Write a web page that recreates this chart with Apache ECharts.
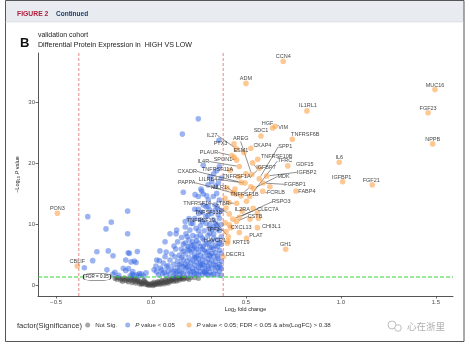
<!DOCTYPE html>
<html><head><meta charset="utf-8">
<script src="https://cdn.jsdelivr.net/npm/echarts@6/dist/echarts.min.js"></script>
<style>html,body{margin:0;padding:0;background:#fff}#c{width:470px;height:345px}</style>
</head><body><div id="c"></div>
<script>
// ---------- DATA ----------
const xTicks = [-0.5, 0, 0.5, 1, 1.5];
const yTicks = [0, 10, 20, 30];
const xRange = [-0.595, 1.59];
const yRange = [-1.68, 38.07];
const fcCut = 0.38;
const fdrLine = 1.43;
const fdrLabelAt = [-0.284, 1.43];

const sigGenes = ["CCN4","ADM","IL1RL1","MUC16","FGF23","NPPB","IL6","IGFBP1","FGF21","GH1","PON3","CBLIF","VIM","HGF","SDC1","TNFRSF6B","PTX3","IL27","AREG","CKAP4","SPP1","ESM1","TNFRSF10B","PLAUR","SPON1","IL4R","TNFRSF11A","TNFRSF1A","IGFBP7","LILRB4","CXADR","PAPPA","MILR1","TNFRSF1B","FGFBP1","FCRLB","FABP4","GDF15","TFRC","IGFBP2","MDK","RSPO3","IL2RA","CLEC7A","CSTB","CXCL13","TFF3","TNFRSF19","TNFSF13B","TNFRSF14","LTBR","CHI3L1","PLAT","KRT19","HAVCR1","DECR1"];
const sigFC = [0.696,0.50,0.821,1.495,1.459,1.483,0.991,1.009,1.165,0.709,-0.493,-0.388,0.654,0.640,0.579,0.744,0.437,0.45,0.53,0.526,0.57,0.489,0.562,0.425,0.451,0.465,0.416,0.57,0.535,0.495,0.475,0.43,0.445,0.526,0.59,0.588,0.763,0.72,0.52,0.609,0.54,0.465,0.538,0.43,0.45,0.412,0.395,0.407,0.395,0.412,0.451,0.56,0.503,0.405,0.402,0.381];
const sigLogP = [36.7,33.1,28.6,32.1,28.3,23.2,20.2,17.0,16.5,5.95,11.85,3.22,26.1,25.8,24.5,23.95,23.2,22.4,18.2,22.5,17.5,21.8,20.7,21.3,20.55,19.5,18.9,19.2,20.1,16.8,16.9,15.2,15.0,16.2,16.8,15.45,15.5,19.6,14.6,17.95,15.9,11.2,12.66,10.9,10.5,9.95,8.85,8.0,12.7,11.75,13.5,9.5,7.75,7.3,6.95,4.75];

const sigExtra = [[0.438,21.0],[0.50,18.3],[0.442,15.8],[0.474,14.7],[0.626,16.2],[0.56,11.9],[0.565,11.05],[0.521,10.9],[0.503,13.8],[0.465,8.7],[0.41,13.6],[0.39,10.3],[0.42,9.5],[0.48,12.2],[0.46,17.8],[0.40,16.0],[0.39,14.3]];

const blue = [
[-0.351,2.95],[-0.333,11.3],[-0.307,4.1],[-0.285,5.55],[-0.237,9.3],[-0.232,2.6],[-0.225,5.7],[-0.209,10.4],[-0.2,4.9],[-0.19,2.2],[-0.146,2.85],[-0.133,4.2],[-0.133,2.5],[-0.123,12.2],[-0.123,8.5],[-0.12,5.4],[-0.119,2.8],[-0.114,5.3],[-0.105,3.9],[-0.096,2.3],[-0.088,4.05],[-0.079,3.8],[-0.072,5.6],[-0.061,2.0],[-0.026,2.1],[-0.1,1.9],[-0.11,1.6],[-0.09,1.7],[-0.075,1.8],[-0.065,1.6],[-0.05,1.9],[-0.04,1.6],[-0.2,1.9],[-0.17,1.7],
[0.016,2.6],[0.026,3.2],[0.03,2.3],[0.03,4.2],[0.044,4.1],[0.047,5.7],[0.056,2.6],[0.065,3.7],[0.074,4.75],[0.074,7.2],[0.083,3.1],[0.1,4.2],[0.1,8.5],[0.121,6.5],[0.126,4.75],[0.132,8.5],[0.135,9.1],[0.135,2.3],[0.161,7.9],[0.17,5.6],[0.17,3.1],[0.184,8.5],[0.196,6.4],[0.205,9.1],[0.223,6.7],[0.223,2.3],[0.237,9.4],[0.24,8.0],[0.24,4.75],[0.258,3.4],[0.275,6.5],[0.284,2.2],[0.302,2.85],[0.307,5.0],[0.307,9.4],[0.328,5.97],[0.346,9.95],[0.354,4.5],[0.363,3.1],
[0.04,1.8],[0.06,2.0],[0.08,1.7],[0.09,2.4],[0.1,1.9],[0.11,2.7],[0.12,1.6],[0.12,3.5],[0.13,2.0],[0.14,3.0],[0.14,4.0],[0.15,1.8],[0.15,2.5],[0.15,5.0],[0.16,3.6],[0.16,6.0],[0.17,2.0],[0.17,4.3],[0.18,2.8],[0.18,3.5],[0.18,5.2],[0.18,7.0],[0.19,1.9],[0.19,4.0],[0.19,6.0],[0.2,2.5],[0.2,3.2],[0.2,4.6],[0.2,7.5],[0.21,1.7],[0.21,3.8],[0.21,5.5],[0.22,2.9],[0.22,4.2],[0.22,5.9],[0.22,7.2],[0.23,2.0],[0.23,3.4],[0.23,5.0],[0.24,2.6],[0.24,3.9],[0.24,6.0],[0.25,1.8],[0.25,3.0],[0.25,4.4],[0.25,5.5],[0.25,7.0],[0.26,2.3],[0.26,3.7],[0.26,5.0],[0.26,8.3],[0.27,1.9],[0.27,2.9],[0.27,4.2],[0.27,6.0],[0.28,3.3],[0.28,4.8],[0.28,7.5],[0.29,2.5],[0.29,3.9],[0.29,5.5],[0.29,6.8],[0.3,1.8],[0.3,3.2],[0.3,4.4],[0.3,8.2],[0.31,2.2],[0.31,3.7],[0.31,6.3],[0.32,2.9],[0.32,4.1],[0.32,5.3],[0.32,7.2],[0.33,1.9],[0.33,3.4],[0.33,8.5],[0.34,2.5],[0.34,4.0],[0.34,5.4],[0.34,6.6],[0.35,1.8],[0.35,3.0],[0.35,7.5],[0.36,2.4],[0.36,5.8],[0.37,1.7],[0.37,4.0],[0.37,6.8],
[0.05,2.9],[0.07,2.2],[0.08,5.5],[0.09,3.3],[0.11,5.2],[0.12,2.4],[0.13,6.0],[0.14,7.2],[0.15,3.4],[0.16,4.6],[0.16,2.2],[0.17,6.8],[0.18,9.6],[0.19,3.1],[0.19,8.0],[0.2,5.8],[0.21,2.3],[0.21,6.6],[0.21,10.2],[0.22,8.2],[0.23,4.6],[0.23,6.3],[0.23,11.0],[0.24,1.9],[0.24,7.3],[0.25,9.0],[0.25,12.5],[0.26,6.4],[0.26,10.8],[0.27,3.5],[0.27,7.8],[0.27,12.0],[0.28,2.3],[0.28,5.8],[0.28,9.0],[0.29,1.9],[0.29,10.2],[0.3,5.6],[0.3,7.0],[0.3,13.0],[0.31,4.9],[0.31,8.6],[0.32,1.8],[0.32,6.3],[0.32,9.2],[0.32,11.8],[0.33,4.8],[0.33,7.8],[0.34,3.3],[0.34,10.2],[0.34,12.4],[0.35,4.8],[0.35,6.4],[0.35,9.3],[0.36,3.5],[0.36,7.0],[0.36,11.0],[0.37,2.8],[0.37,5.3],[0.37,8.0],[0.37,10.0],[0.37,12.3],
[0.17,15.3],[0.263,15.8],[0.275,15.0],[0.249,14.6],[0.302,14.05],[0.328,14.6],[0.346,15.1],[0.275,13.2],[0.337,13.2],[0.31,12.4],[0.354,11.6],[0.289,11.3],[0.328,10.8],[0.267,15.5],[0.293,14.7],[0.232,14.9],[0.3,16.5],[0.32,17.0],[0.34,16.3],[0.36,14.0],[0.35,12.8],[0.31,10.0],[0.27,10.5],[0.25,11.8],[0.23,12.5],[0.29,12.9],[0.36,9.0],[0.33,9.6],[0.2,11.0],[0.22,10.2],[0.18,10.5],[0.26,9.8],[0.3,11.5],[0.355,16.8],[0.37,17.6],[0.345,18.8],
[0.249,27.3],[0.165,24.8],[0.358,23.8],[0.275,19.7],[0.33,18.3],[0.36,19.5],[0.31,17.8]
];

const notSig = [[-0.19,1.2],[-0.18,1.0],[-0.17,1.3],[-0.16,0.9],[-0.15,1.1],[-0.15,0.7],[-0.14,1.3],[-0.13,0.8],[-0.12,1.0],[-0.12,0.6],[-0.11,1.2],[-0.10,0.5],[-0.10,0.9],[-0.09,0.7],[-0.09,1.1],[-0.08,0.4],[-0.08,0.8],[-0.07,0.6],[-0.07,1.0],[-0.06,0.3],[-0.06,0.7],[-0.05,0.5],[-0.05,0.2],[-0.04,0.4],[-0.04,0.8],[-0.03,0.2],[-0.03,0.6],[-0.02,0.1],[-0.02,0.4],[-0.01,0.05],[-0.01,0.3],[0.0,0.1],[0.0,0.3],[0.01,0.0],[0.01,0.2],[0.02,0.1],[0.02,0.4],[0.03,0.2],[0.03,0.5],[0.04,0.3],[0.04,0.6],[0.05,0.2],[0.05,0.5],[0.06,0.4],[0.06,0.8],[0.07,0.3],[0.07,0.6],[0.08,0.5],[0.08,0.9],[0.09,0.4],[0.09,0.7],[0.10,0.6],[0.10,1.0],[0.11,0.8],[0.11,1.2],[0.12,0.7],[0.12,1.0],[0.13,0.9],[0.13,1.3],[0.14,1.1],[0.15,0.9],[0.15,1.3],[0.16,1.2],[0.17,1.0],[0.18,1.3],[0.19,1.2],[0.21,1.3],
[-0.18,1.35],[-0.16,1.2],[-0.14,0.95],[-0.13,1.15],[-0.11,0.9],[-0.1,1.3],[-0.085,1.0],[-0.07,0.8],[-0.055,0.6],[-0.045,0.35],[-0.035,0.9],[-0.025,0.5],[-0.015,0.2],[0.005,0.4],[0.015,0.6],[0.025,0.3],[0.035,0.7],[0.045,0.45],[0.055,0.9],[0.065,0.55],[0.075,1.0],[0.085,0.7],[0.095,1.1],[0.105,0.8],[0.115,1.0],[0.125,1.3],[0.135,0.75],[0.145,1.3],[0.155,1.1],[0.165,1.35],[0.175,1.2],[0.2,1.0],[0.23,1.3],[0.25,1.2]];

// label nudges (pixels) and whether a leader line is drawn
const nudge = {CCN4:[0,-5,0],ADM:[0,-4.5,0],IL1RL1:[1,-5,0],MUC16:[0,-4.5,0],FGF23:[0,-4.5,0],NPPB:[0,-4.5,0],IL6:[0,-4.5,0],IGFBP1:[-1,-4.5,0],FGF21:[-1,-4.5,0],GH1:[0,-4.5,0],PON3:[0,-4.5,0],CBLIF:[0,-4.5,0],VIM:[8,1,0],HGF:[-5,-5,0],SDC1:[0,-5,0],TNFRSF6B:[13,-4.5,0],PTX3:[-13.5,0,0],IL27:[-24.5,-13.5,1],AREG:[-11,-36,1],CKAP4:[11.5,-3,0],SPP1:[26,-32,1],ESM1:[-3,-2,0],TNFRSF10B:[19,-2.5,0],PLAUR:[-22.7,-3,1],SPON1:[-13.7,-1,1],IL4R:[-36,-5,1],TNFRSF11A:[-12.5,-1,1],TNFRSF1A:[-22.8,8.4,1],IGFBP7:[13.3,4.7,1],LILRB4:[-37,-3.7,1],CXADR:[-54,-11,1],PAPPA:[-46,-10,1],MILR1:[-16.5,-7,1],TNFRSF1B:[-6.5,8,1],FGFBP1:[32,1.3,1],FCRLB:[13.3,1.7,1],FABP4:[11,1,0],GDF15:[17,-1.7,0],TFRC:[35,-35.5,1],IGFBP2:[40,-3.7,1],MDK:[30,-12,1],RSPO3:[42,-15.5,1],IL2RA:[-11,1,0],CLEC7A:[35.3,-10,1],CSTB:[18.5,-5,1],CXCL13:[12,3,1],TFF3:[-13,-2.3,1],TNFRSF19:[-27.5,-16,1],TNFSF13B:[-17.5,4,1],TNFRSF14:[-32,-10.7,1],LTBR:[-13.7,0,1],CHI3L1:[14,-1,0],PLAT:[9.5,-3.3,0],KRT19:[13,1.7,0],HAVCR1:[-12.3,-2.6,0],DECR1:[12,-2.4,0]};

// ---------- CHART ----------
const FF = '"Liberation Sans", Arial, sans-serif';
const chart = echarts.init(document.getElementById('c'), null, {renderer:'canvas'});
const sigData = sigGenes.map((n,i)=>({name:n, value:[sigFC[i], sigLogP[i]], labelLine:{show: !!nudge[n][2]}}));
const fmtX = v => (v<0?'\u2212':'') + Math.abs(v).toFixed(1);
const SIG = 'P value < 0.05; FDR < 0.05 & abs(LogFC) > 0.38';
const legendBase = {top:317,itemWidth:5,itemHeight:5,icon:'circle',
    formatter:n=> n.charAt(0)==='P' ? '{i|P}{n|'+n.slice(1)+'}' : '{n|'+n+'}',
    textStyle:{fontSize:6.2,color:'#333',fontFamily:FF,
      rich:{i:{fontStyle:'italic',fontSize:6.2,color:'#333',fontFamily:FF},n:{fontSize:6.2,color:'#333',fontFamily:FF}}}};
const COL_NS='rgba(68,68,68,0.6)', COL_B='rgba(52,101,224,0.62)', COL_S='rgba(251,154,58,0.68)';
const refLine = (name, pts, color, dash, w) => ({name, type:'line', data:pts, symbol:'none', silent:true, z:6,
    lineStyle:{color, type:dash, width:w}, tooltip:{show:false}});

const option = {
  animation:false,
  backgroundColor:'#fff',
  grid:{left:38,right:17,top:53,bottom:49},
  xAxis:{type:'value',min:xRange[0],max:xRange[1],
    name:'{a|Log}{s|2}{a| fold change}',nameLocation:'middle',nameGap:10,nameMoveOverlap:false,
    nameTextStyle:{rich:{a:{fontSize:5.5,color:'#222',fontFamily:FF},s:{fontSize:4,color:'#222',fontFamily:FF,padding:[3,0,0,0]}}},
    splitLine:{show:false},
    axisLine:{onZero:false,lineStyle:{color:'#444',width:0.9}},
    axisTick:{customValues:xTicks,length:2.5,lineStyle:{color:'#444',width:0.8}},
    axisLabel:{customValues:xTicks,formatter:fmtX,fontSize:6,color:'#4d4d4d',margin:3,fontFamily:FF}},
  yAxis:{type:'value',min:yRange[0],max:yRange[1],
    name:'{a|\u2212Log}{s|10}{a| }{i|P}{a| value}',nameLocation:'middle',nameGap:17,nameRotate:90,nameMoveOverlap:false,
    nameTextStyle:{rich:{a:{fontSize:5.5,color:'#222',fontFamily:FF},i:{fontSize:5.5,color:'#222',fontStyle:'italic',fontFamily:FF},s:{fontSize:4,color:'#222',fontFamily:FF,padding:[3,0,0,0]}}},
    splitLine:{show:false},
    axisLine:{show:true,onZero:false,lineStyle:{color:'#444',width:0.9}},
    axisTick:{show:true,customValues:yTicks,length:2.5,lineStyle:{color:'#444',width:0.8}},
    axisLabel:{customValues:yTicks,fontSize:6,color:'#4d4d4d',margin:3,fontFamily:FF}},
  legend:[
    Object.assign({left:80.2,data:['Not Sig.']},legendBase),
    Object.assign({left:120.2,data:['P value < 0.05']},legendBase),
    Object.assign({left:181.5,data:[SIG]},legendBase)
  ],
  graphic:[
    {type:'rect',shape:{x:5,y:0,width:459,height:22},style:{fill:'#e8ecf1'},silent:true,z:-1},
    {type:'rect',shape:{x:5.5,y:0.5,width:458.5,height:341},style:{fill:null,stroke:'#555',lineWidth:1},silent:true},
    {type:'line',shape:{x1:5,y1:22,x2:464,y2:22},style:{stroke:'#c8ced6',lineWidth:0.5},silent:true},
    {type:'text',x:17,y:14,style:{text:'FIGURE 2',font:'bold 6.8px '+FF,fill:'#b01c3c',textVerticalAlign:'middle'}},
    {type:'text',x:56,y:14,style:{text:'Continued',font:'bold 6.5px '+FF,fill:'#1d3b6b',textVerticalAlign:'middle'}},
    {type:'text',x:20,y:43,style:{text:'B',font:'bold 13px '+FF,fill:'#111',textVerticalAlign:'middle'}},
    {type:'text',x:38,y:35,style:{text:'validation cohort',font:'6.9px '+FF,fill:'#222',textVerticalAlign:'middle'}},
    {type:'text',x:38,y:45,style:{text:'Differential Protein Expression in  HIGH VS LOW',font:'7.1px '+FF,fill:'#222',textVerticalAlign:'middle'}},
    {type:'text',x:17,y:326,style:{text:'factor(Significance)',font:'7.6px '+FF,fill:'#333',textVerticalAlign:'middle'}},
    {type:'circle',shape:{cx:392,cy:325,r:4},style:{fill:null,stroke:'#b5b5b5',lineWidth:0.9}},
    {type:'circle',shape:{cx:398,cy:328,r:3.3},style:{fill:'#fff',stroke:'#b5b5b5',lineWidth:0.9}},
    {type:'text',x:407,y:326,style:{text:'心在浙里',font:'9.5px "Noto Sans CJK SC"',fill:'#b0b0b0',textVerticalAlign:'middle'}}
  ],
  series:[
    {name:'Not Sig.',type:'scatter',data:notSig,symbolSize:5,itemStyle:{color:COL_NS},z:2},
    {name:'P value < 0.05',type:'scatter',data:blue,symbolSize:5.6,itemStyle:{color:COL_B},z:3},
    refLine('fcLow',[[-fcCut,yRange[0]],[-fcCut,yRange[1]]],'#e06a6a',[3,2],0.8),
    refLine('fcHigh',[[fcCut,yRange[0]],[fcCut,yRange[1]]],'#e06a6a',[3,2],0.8),
    refLine('fdr',[[xRange[0],fdrLine],[xRange[1],fdrLine]],'#33d433',[4,2],1),
    {name:SIG,type:'scatter',data:sigExtra,symbolSize:5.6,itemStyle:{color:COL_S},z:4},
    {name:SIG,type:'scatter',data:sigData,symbolSize:5.6,itemStyle:{color:COL_S},z:5,
      label:{show:true,position:'inside',formatter:'{b}',fontSize:5.5,color:'#111',fontFamily:FF},
      labelLine:{show:true,lineStyle:{color:'#222',width:0.5}},
      labelLayout:function(p){const o=nudge[sigGenes[p.dataIndex]];return {dx:o[0],dy:o[1]};}},
    {name:'fdrBox',type:'scatter',data:[fdrLabelAt],z:20,zlevel:1,silent:true,
      symbol:'roundRect',symbolSize:[27,6.5],
      itemStyle:{color:'#fff',borderColor:'#333',borderWidth:0.6,opacity:1},
      label:{show:true,position:'inside',formatter:'FDR = 0.05',fontSize:4.5,color:'#222',fontFamily:FF}}
  ]
};
chart.setOption(option);
</script></body></html>
